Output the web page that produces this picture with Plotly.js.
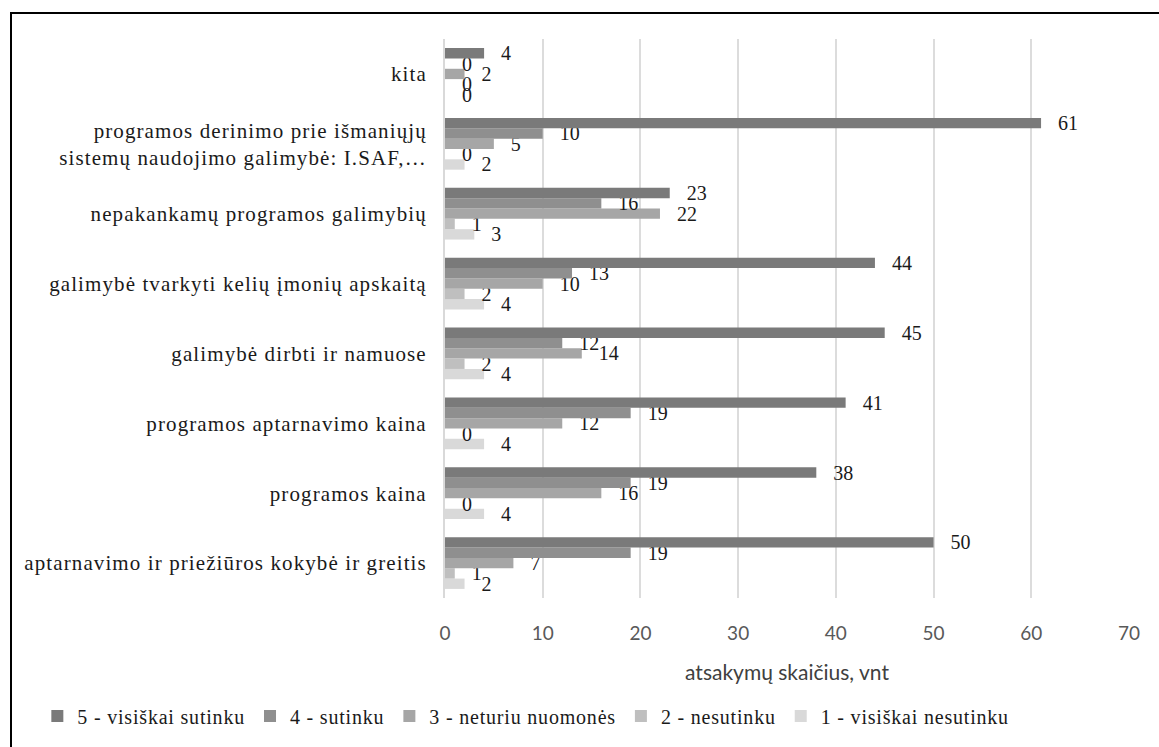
<!DOCTYPE html>
<html>
<head>
<meta charset="utf-8">
<script src="https://cdn.plot.ly/plotly-3.0.1.min.js"></script>
<style>
  html, body { margin: 0; padding: 0; background: #ffffff; overflow: hidden; }
  #frame {
    position: absolute; left: 10px; top: 12px;
    width: 1200px; height: 800px;
    border-top: 2px solid #000; border-left: 2px solid #000;
    box-sizing: border-box;
  }
  #chart { position: absolute; left: 0; top: 0; width: 1159px; height: 747px; }
  /* wider tracking for the serif captions */
  .legendtext { letter-spacing: 0.8px; }
  #chart .ytick text { letter-spacing: 1.1px; }
</style>
</head>
<body>
<div id="frame"></div>
<div id="chart"></div>
<script>
// Categories, listed bottom to top
const categories = [
  "aptarnavimo ir priežiūros kokybė ir greitis",
  "programos kaina",
  "programos aptarnavimo kaina",
  "galimybė dirbti ir namuose",
  "galimybė tvarkyti kelių įmonių apskaitą",
  "nepakankamų programos galimybių",
  "programos derinimo prie išmaniųjų<br>sistemų naudojimo galimybė: I.SAF,…",
  "kita"
];

const seriesNames = [
  "1 - visiškai nesutinku",
  "2 - nesutinku",
  "3 - neturiu nuomonės",
  "4 - sutinku",
  "5 - visiškai sutinku"
];

// Answer counts per rating, same order as categories
const rating1 = [2, 4, 4, 4, 4, 3, 2, 0];
const rating2 = [1, 0, 0, 2, 2, 1, 0, 0];
const rating3 = [7, 16, 12, 14, 10, 22, 5, 2];
const rating4 = [19, 19, 19, 12, 13, 16, 10, 0];
const rating5 = [50, 38, 41, 45, 44, 23, 61, 4];

const xTicks = [0, 10, 20, 30, 40, 50, 60, 70];

const seriesValues = [rating1, rating2, rating3, rating4, rating5];
const seriesColors = ["#d9d9d9", "#bfbfbf", "#a6a6a6", "#8f8f8f", "#7a7a7a"];

const serif = "Times New Roman, Liberation Serif, serif";
const sans = "Lato, sans-serif";

const traces = seriesValues.map((vals, i) => ({
  type: "bar",
  orientation: "h",
  name: seriesNames[i],
  y: categories,
  x: vals,
  marker: { color: seriesColors[i], line: { width: 0 } },
  text: vals.map(v => String(v)),
  texttemplate: "\u2002\u2009%{text}",
  textposition: "outside",
  constraintext: "none",
  cliponaxis: false,
  textfont: { family: serif, size: 20, color: "#1a1a1a" },
  hoverinfo: "x+name"
}));

const layout = {
  width: 1159,
  height: 747,
  paper_bgcolor: "rgba(0,0,0,0)",
  plot_bgcolor: "rgba(0,0,0,0)",
  font: { family: serif, size: 20, color: "#1a1a1a" },
  margin: { l: 445, r: 30, t: 39, b: 144 },
  barmode: "group",
  bargap: 0.26,
  bargroupgap: 0,
  showlegend: true,
  legend: {
    orientation: "h",
    traceorder: "reversed",
    x: -0.596, xanchor: "left",
    y: -0.211, yanchor: "middle",
    font: { family: serif, size: 20, color: "#1a1a1a" },
    itemwidth: 30
  },
  xaxis: {
    range: [0, 70],
    tickvals: xTicks,
    ticktext: xTicks.map(String),
    showgrid: true,
    gridcolor: "#dcdcdc",
    gridwidth: 2,
    zeroline: false,
    showline: false,
    ticks: "",
    ticklabelstandoff: 22,
    tickfont: { family: sans, size: 19, color: "#595959" },
    title: {
      text: "atsakymų skaičius, vnt",
      font: { family: sans, size: 21, color: "#404040" },
      standoff: 22
    },
    fixedrange: true
  },
  yaxis: {
    type: "category",
    categoryorder: "array",
    categoryarray: categories,
    showline: true,
    linecolor: "#d9d9d9",
    linewidth: 2,
    showgrid: false,
    zeroline: false,
    ticks: "",
    ticklabelstandoff: 12,
    tickfont: { family: serif, size: 21, color: "#1a1a1a" },
    fixedrange: true
  }
};

Plotly.newPlot("chart", traces, layout, { displayModeBar: false, staticPlot: true });
</script>
</body>
</html>
